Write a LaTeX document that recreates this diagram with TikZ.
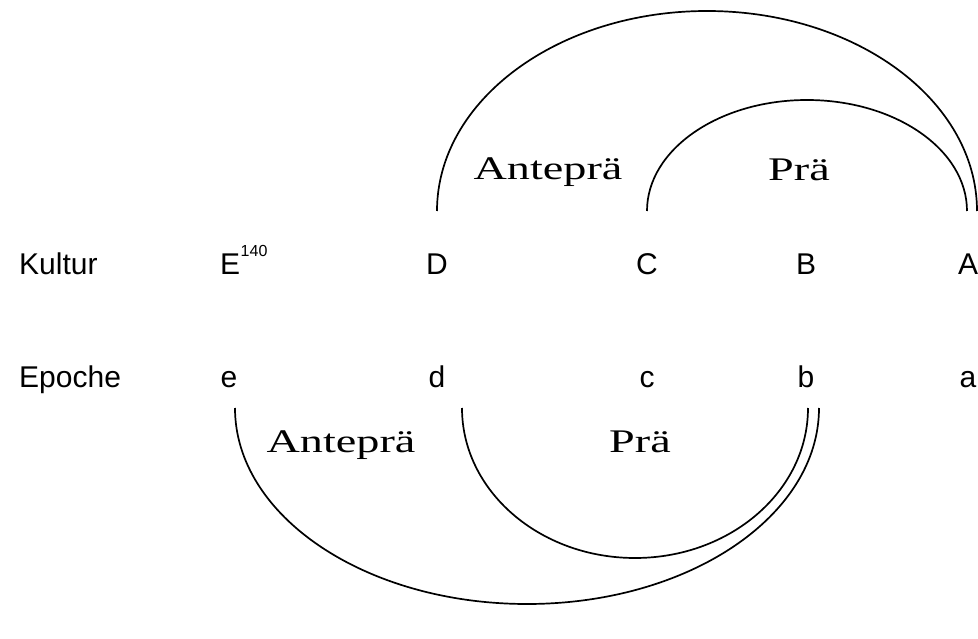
\documentclass[tikz,border=0pt]{standalone}
\usepackage{fontspec}
\setmainfont{Liberation Sans}
\newfontfamily\serifwide{Liberation Serif}
\begin{document}
\begin{tikzpicture}[x=1pt,y=-1pt,
  lbl/.style={font=\fontsize{30}{34}\selectfont, inner sep=0pt, anchor=base},
  arclbl/.style={font=\serifwide\fontsize{33}{38}\selectfont, xscale=1.4, inner sep=0pt, anchor=base},
  arcline/.style={line width=1.7pt}]
\useasboundingbox (0,0) rectangle (978,639);
% row 1
\node[lbl, anchor=base west] (kultur) at (19,275) {Kultur};
\node[lbl, anchor=base west] (E) at (220,275) {E\kern0.5pt\raisebox{18pt}{\fontsize{16}{16}\selectfont 140}};
\node[lbl] (D) at (437,275) {D};
\node[lbl] (C) at (647,275) {C};
\node[lbl] (B) at (806,275) {B};
\node[lbl] (A) at (968,275) {A};
% row 2
\node[lbl, anchor=base west] (epoche) at (19,387) {Epoche};
\node[lbl] (e) at (229,387) {e};
\node[lbl] (d) at (437,387) {d};
\node[lbl] (c) at (647,387) {c};
\node[lbl] (b) at (806,387) {b};
\node[lbl] (a) at (968,387) {a};
% arc endpoints
\coordinate (tD) at (437,211);
\coordinate (tC) at (647,211);
\coordinate (bE) at (235,408);
\coordinate (bD) at (462,408);
% top arcs
\draw[arcline] (tD) arc[start angle=180, end angle=360, x radius=270, y radius=200];
\draw[arcline] (tC) arc[start angle=180, end angle=360, x radius=160, y radius=111];
% bottom arcs
\draw[arcline] (bE) arc[start angle=180, end angle=0, x radius=292, y radius=196];
\draw[arcline] (bD) arc[start angle=180, end angle=0, x radius=173, y radius=150];
% arc labels
\node[arclbl] (ante1) at (548,180) {Anteprä};
\node[arclbl] (prae1) at (799,181) {Prä};
\node[arclbl] (ante2) at (341,452) {Anteprä};
\node[arclbl] (prae2) at (640,452) {Prä};
\end{tikzpicture}
\end{document}
